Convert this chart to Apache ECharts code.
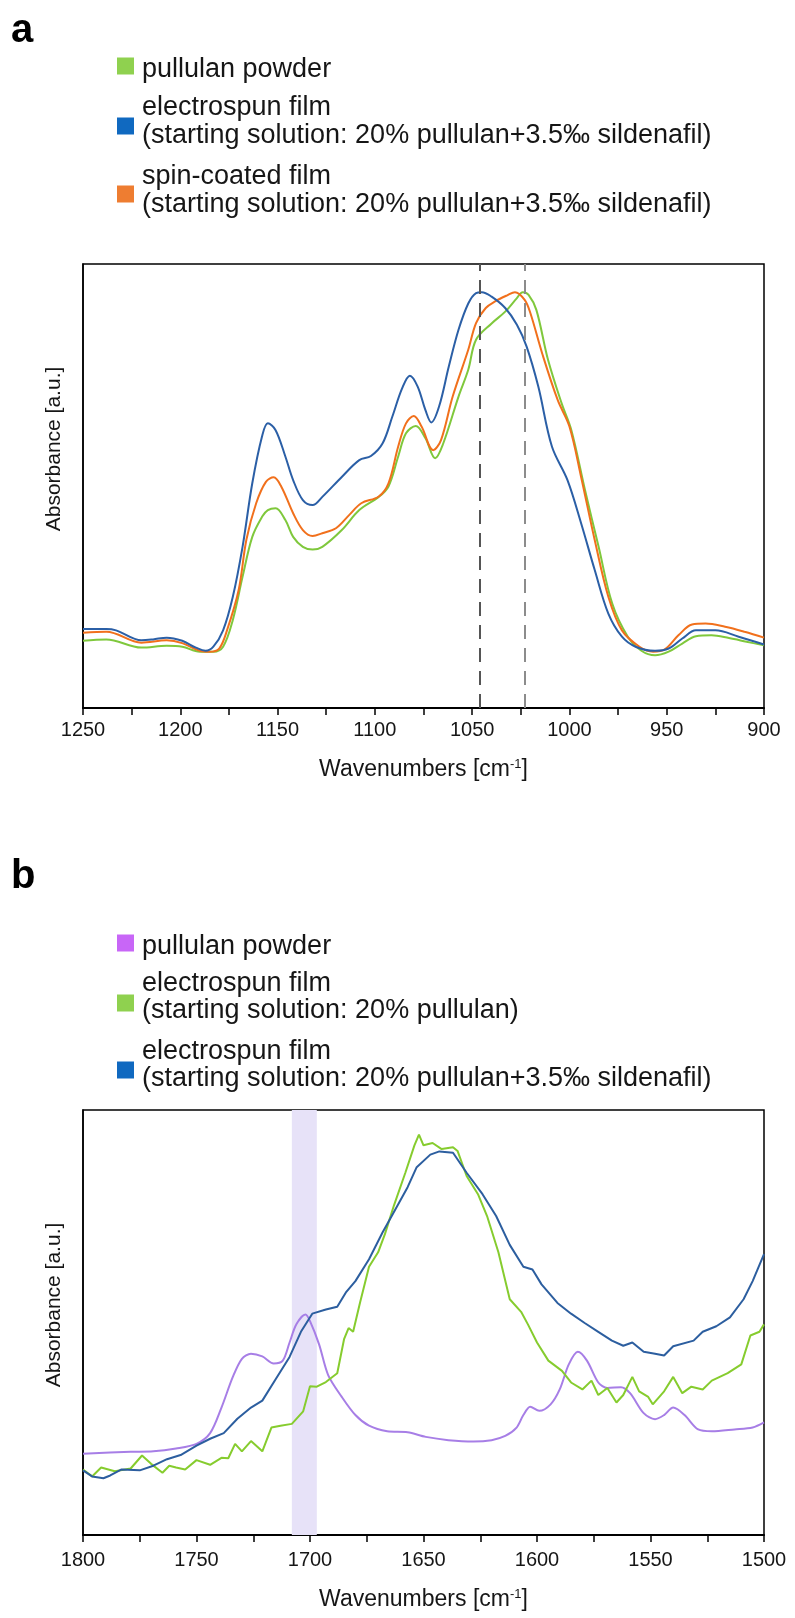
<!DOCTYPE html>
<html>
<head>
<meta charset="utf-8">
<script src="https://cdn.jsdelivr.net/npm/echarts/dist/echarts.min.js"></script>
<style>
  html, body { margin: 0; padding: 0; background: #fff; }
  #chart { width: 795px; height: 1618px; }
</style>
</head>
<body>
<div id="chart"></div>
<script>
// ---------- Panel a: 1250–900 cm-1 ----------
const wnPowderA = [1250,1238,1220,1207,1199,1190,1183,1178,1173,1168,1163,1158,1155,1151,1146,1142,1137,1132,1127,1117,1108,1098,1093,1088,1084,1079,1074,1069,1065,1057,1052,1048,1040,1033,1027,1024,1021,1017,1011,1004,999,992,985,978,970,963,956,949,942,935,927,918,909,900];
const absPowderA = [13.3,13.6,11.8,12.2,12.0,10.9,10.9,12.0,17.9,27.4,36.2,40.6,42.1,42.5,39.9,36.2,34.0,33.4,34.0,37.7,42.1,45.0,47.3,53.9,59.0,60.6,57.9,53.5,56.6,67.1,73.0,79.6,83.2,85.8,88.8,90.1,89.5,86.2,75.2,65.6,59.7,46.5,34.0,21.5,14.2,11.1,10.1,10.9,12.7,14.3,14.5,13.9,13.1,12.3];

const wnElectroA = [1250,1238,1233,1220,1214,1207,1199,1192,1187,1183,1178,1173,1168,1163,1158,1155,1151,1146,1142,1137,1132,1127,1117,1108,1102,1096,1091,1086,1082,1078,1074,1071,1067,1062,1057,1052,1048,1045,1040,1033,1027,1022,1016,1009,1001,994,987,980,973,966,956,949,942,935,925,913,900];
const absElectroA = [15.9,15.9,15.6,13.4,13.6,14.0,13.3,11.8,11.1,12.0,15.6,23.0,34.0,48.0,58.3,61.2,59.7,53.9,48.7,44.3,43.2,45.0,49.4,53.1,54.0,56.8,62.7,68.9,71.7,69.3,64.1,61.4,64.9,73.7,81.8,87.6,89.9,90.1,89.1,86.6,82.9,78.1,69.3,56.1,48.7,39.2,28.9,19.3,14.2,12.0,11.1,11.6,13.8,15.6,15.6,14.2,12.5];

const wnSpinA = [1250,1238,1220,1207,1199,1190,1185,1180,1176,1170,1166,1161,1156,1152,1148,1142,1137,1132,1127,1120,1113,1107,1098,1093,1088,1084,1080,1076,1070,1066,1060,1052,1048,1043,1038,1032,1028,1023,1020,1014,1006,1000,994,987,980,973,964,957,951,944,937,930,920,910,900];
const absSpinA = [15.1,15.3,12.9,13.4,12.8,11.1,10.9,11.6,15.6,24.5,35.6,43.6,48.3,49.3,47.2,41.4,37.7,36.4,37.0,38.1,41.1,43.6,45.1,48.0,56.1,61.2,62.8,60.5,55.3,57.5,67.1,77.4,83.3,86.6,88.1,89.4,90.1,88.4,85.4,76.6,66.3,60.5,49.4,35.5,23.0,15.6,12.0,10.9,11.4,14.5,16.9,17.1,16.4,15.3,14.0];

// band maxima marked with dashed guides
const guideWnA = [1046, 1023];

// ---------- Panel b: 1800–1500 cm-1 ----------
const wnPowderB = [1800,1779,1769,1759,1750,1744,1739,1734,1730,1726,1721,1716,1712,1709,1706,1702,1700,1696,1692,1686,1680,1674,1666,1657,1649,1639,1628,1620,1614,1609,1606,1603,1599,1594,1590,1586,1582,1578,1573,1569,1563,1559,1553,1548,1544,1540,1535,1529,1523,1513,1505,1500];
const absPowderB = [16.6,17.0,17.1,17.7,18.7,21.0,26.5,33.1,37.0,38.1,37.5,36.0,36.6,40.5,44.4,46.5,45.1,40.1,33.5,28.8,24.9,22.6,21.4,21.2,20.2,19.5,19.2,19.5,20.4,22.2,24.9,26.7,25.8,27.2,30.4,35.8,38.5,36.6,31.9,30.7,30.9,29.6,25.3,24.0,24.9,26.5,24.9,21.8,21.4,21.8,22.2,23.3];

const wnPlainB = [1800,1796,1792,1786,1779,1774,1770,1765,1762,1759,1755,1750,1744,1739,1736,1733,1730,1726,1721,1717,1713,1708,1703,1700,1697,1693,1688,1685,1683,1681,1678,1674,1670,1667,1663,1658,1654,1652,1650,1646,1642,1637,1635,1631,1626,1622,1617,1612,1607,1604,1600,1595,1589,1585,1580,1576,1573,1569,1565,1562,1558,1555,1551,1549,1544,1540,1536,1532,1527,1523,1516,1510,1506,1502,1500];
const absPlainB = [13.2,11.7,13.6,12.8,13.4,16.2,14.4,12.5,14.0,13.6,13.2,15.2,14.2,15.7,15.6,18.7,17.1,19.3,17.1,22.2,22.6,23.0,25.7,31.1,31.0,32.0,33.9,41.2,43.6,42.8,49.0,56.8,59.9,63.8,70.0,77.0,82.9,85.2,82.9,83.4,82.1,82.5,81.7,76.3,72.4,67.7,59.9,49.8,47.1,44.4,40.5,36.6,34.4,31.9,30.4,32.3,29.2,30.7,27.6,29.2,33.1,30.0,28.8,27.2,30.0,33.1,29.6,31.0,30.4,32.3,33.9,35.8,42.0,42.8,44.4];

const wnDrugB = [1800,1796,1791,1788,1783,1775,1769,1763,1757,1750,1744,1738,1732,1726,1721,1715,1709,1704,1699,1693,1688,1684,1680,1674,1668,1664,1657,1653,1647,1643,1637,1631,1624,1618,1612,1606,1602,1598,1591,1585,1579,1573,1567,1562,1558,1553,1548,1544,1540,1531,1527,1521,1515,1509,1505,1500];
const absDrugB = [13.0,11.7,11.3,11.9,13.2,13.0,14.0,15.4,16.3,18.3,19.8,21.0,24.1,26.5,28.0,32.7,37.4,42.8,46.7,47.6,48.2,51.4,53.7,58.4,64.2,67.7,73.9,78.2,80.9,81.6,81.3,77.0,72.4,67.7,61.5,56.8,56.2,53.0,49.0,46.7,44.7,42.8,40.9,39.8,40.5,38.5,38.1,37.7,39.7,40.9,42.8,44.0,45.9,49.8,53.7,59.5];

// highlighted C=O region
const bandWnB = [1708, 1697];

// legend entries
const legendLabelsA = [
  'pullulan powder',
  'electrospun film\n(starting solution: 20% pullulan+3.5\u2030 sildenafil)',
  'spin-coated film\n(starting solution: 20% pullulan+3.5\u2030 sildenafil)'
];
const legendLabelsB = [
  'pullulan powder',
  'electrospun film\n(starting solution: 20% pullulan)',
  'electrospun film\n(starting solution: 20% pullulan+3.5\u2030 sildenafil)'
];
const xTitle = 'Wavenumbers [cm{sup|-1}]';
const yTitle = 'Absorbance [a.u.]';

// ---------- styling / layout ----------
const FONT = '"Liberation Sans", Arial, sans-serif';
const TXT = '#161616';
const colA = { powder: '#7fc83c', electro: '#2b5fa6', spin: '#f1701c' };
const swatchA = ['#8fd14f', '#1069c0', '#ee7d31'];
const colB = { powder: '#a77ee6', plain: '#86cc2e', drug: '#2c5e9f' };
const swatchB = ['#c866f7', '#8fd14f', '#1069c0'];
// vertical centres of legend text blocks and swatches
const legendTextYA = [69.5, 121.5, 190.5];
const legendBoxYA = [66, 126, 194];
const legendTextYB = [947, 997, 1065];
const legendBoxYB = [943, 1003, 1070];

const pairs = (xs, ys) => xs.map((x, i) => [x, ys[i]]);

function xAxisFor(gridIndex, min, max, labelMargin, nameGap) {
  return {
    gridIndex, type: 'value', min, max, interval: 25, inverse: true,
    axisLine: { show: true, onZero: false, lineStyle: { color: '#000', width: 2 } },
    axisTick: { show: true, inside: false, length: 7, lineStyle: { color: '#000', width: 1.5 } },
    axisLabel: {
      show: true, margin: labelMargin, color: TXT, fontFamily: FONT, fontSize: 20,
      showMinLabel: true, showMaxLabel: true,
      formatter: v => (v % 50 === 0 ? String(v) : '')
    },
    splitLine: { show: false },
    name: xTitle, nameLocation: 'middle', nameGap,
    nameTextStyle: {
      color: TXT, fontFamily: FONT, fontSize: 23,
      rich: { sup: { fontSize: 13, verticalAlign: 'top', padding: [0, 0, 10, 0], color: TXT, fontFamily: FONT } }
    }
  };
}
function yAxisFor(gridIndex, min, max) {
  return {
    gridIndex, type: 'value', min, max,
    axisLine: { show: true, lineStyle: { color: '#000', width: 1.5 } },
    axisTick: { show: false }, axisLabel: { show: false }, splitLine: { show: false }
  };
}
function line(name, data, color, xi, smooth, extra) {
  return Object.assign({
    name, type: 'line', data, xAxisIndex: xi, yAxisIndex: xi,
    symbol: 'none', smooth, lineStyle: { color, width: 2 }, itemStyle: { color }, z: 3
  }, extra || {});
}

const graphic = [];
function addLegend(labels, swatches, textY, boxY) {
  labels.forEach((t, i) => {
    graphic.push({ type: 'rect', left: 117, top: boxY[i] - 8.5, shape: { width: 17, height: 17 }, style: { fill: swatches[i] } });
    graphic.push({ type: 'text', x: 142, y: textY[i], style: { text: t, fill: TXT, fontFamily: FONT, fontSize: 27, lineHeight: 27.5, verticalAlign: 'middle', align: 'left' } });
  });
}
addLegend(legendLabelsA, swatchA, legendTextYA, legendBoxYA);
addLegend(legendLabelsB, swatchB, legendTextYB, legendBoxYB);
graphic.push({ type: 'text', x: 11, y: 31, style: { text: 'a', fill: '#000', fontFamily: FONT, fontSize: 40, fontWeight: 'bold', verticalAlign: 'middle' } });
graphic.push({ type: 'text', x: 11, y: 877, style: { text: 'b', fill: '#000', fontFamily: FONT, fontSize: 40, fontWeight: 'bold', verticalAlign: 'middle' } });
// rotated y-axis titles
[449, 1305].forEach(cy => {
  graphic.push({ type: 'text', x: 54, y: cy, rotation: Math.PI / 2,
    style: { text: yTitle, fill: TXT, fontFamily: FONT, fontSize: 21, align: 'center', verticalAlign: 'middle' } });
});

const chart = echarts.init(document.getElementById('chart'), null, { renderer: 'canvas' });
chart.setOption({
  animation: false,
  backgroundColor: '#fff',
  textStyle: { fontFamily: FONT },
  grid: [
    { left: 83, top: 264, width: 681, height: 444, show: true, borderColor: '#000', borderWidth: 1.5, backgroundColor: 'transparent', containLabel: false, outerBoundsMode: 'none' },
    { left: 83, top: 1110, width: 681, height: 425, show: true, borderColor: '#000', borderWidth: 1.5, backgroundColor: 'transparent', containLabel: false, outerBoundsMode: 'none' }
  ],
  xAxis: [xAxisFor(0, 900, 1250, 12, 50), xAxisFor(1, 1500, 1800, 15, 53)],
  yAxis: [yAxisFor(0, -1.5, 96.3), yAxisFor(1, -0.9, 90.5)],
  graphic,
  series: [
    line('pullulan powder (a)', pairs(wnPowderA, absPowderA), colA.powder, 0, 0.35),
    line('spin-coated film', pairs(wnSpinA, absSpinA), colA.spin, 0, 0.35, {
      markLine: {
        silent: true, symbol: ['none', 'none'], label: { show: false },
        lineStyle: { type: [14, 9], width: 2 },
        data: [
          { xAxis: guideWnA[0], lineStyle: { color: '#555', type: [14, 9], width: 2 } },
          { xAxis: guideWnA[1], lineStyle: { color: '#8c8c8c', type: [14, 9], width: 2 } }
        ]
      }
    }),
    line('electrospun film (a)', pairs(wnElectroA, absElectroA), colA.electro, 0, 0.35),
    line('pullulan powder (b)', pairs(wnPowderB, absPowderB), colB.powder, 1, 0.3, {
      markArea: {
        silent: true, itemStyle: { color: '#e7e2f8' },
        data: [[{ xAxis: bandWnB[0] }, { xAxis: bandWnB[1] }]]
      }
    }),
    line('electrospun film, pullulan (b)', pairs(wnPlainB, absPlainB), colB.plain, 1, false),
    line('electrospun film, sildenafil (b)', pairs(wnDrugB, absDrugB), colB.drug, 1, false)
  ]
});
</script>
</body>
</html>
